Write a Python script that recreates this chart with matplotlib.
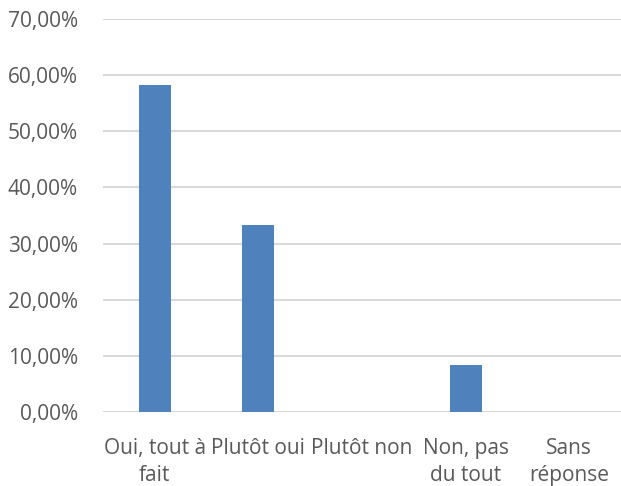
import matplotlib.pyplot as plt
from matplotlib.ticker import FuncFormatter

categories = ["Oui, tout à\nfait", "Plutôt oui", "Plutôt non", "Non, pas\ndu tout", "Sans\nréponse"]
values = [0.5833, 0.3333, 0.0, 0.0833, 0.0]
yticks = [0, 0.1, 0.2, 0.3, 0.4, 0.5, 0.6, 0.7]

plt.rcParams['font.family'] = ['Open Sans', 'DejaVu Sans']
text_color = '#595959'

fig = plt.figure(figsize=(6.21, 4.86), dpi=100)
ax = fig.add_axes([103 / 621, 1 - 412 / 486, 1 - 103 / 621, (412 - 19) / 486])

x = range(len(categories))
ax.bar(x, values, width=0.31, color='#4f81bd', zorder=3)

ax.set_xlim(-0.5, len(categories) - 0.5)
ax.set_ylim(0, 0.7)
ax.set_yticks(yticks)
ax.yaxis.set_major_formatter(FuncFormatter(lambda v, p: f"{v * 100:.2f}%".replace('.', ',')))
ax.set_xticks(list(x))
ax.set_xticklabels(categories, linespacing=1.35)

ax.grid(axis='y', color='#d9d9d9', linewidth=1.5, zorder=0)
ax.set_axisbelow(True)
for s in ax.spines.values():
    s.set_visible(False)
ax.tick_params(axis='both', length=0, labelsize=15, colors=text_color)
ax.tick_params(axis='y', pad=18)
ax.tick_params(axis='x', pad=19)

fig.savefig('out.png', dpi=100)
